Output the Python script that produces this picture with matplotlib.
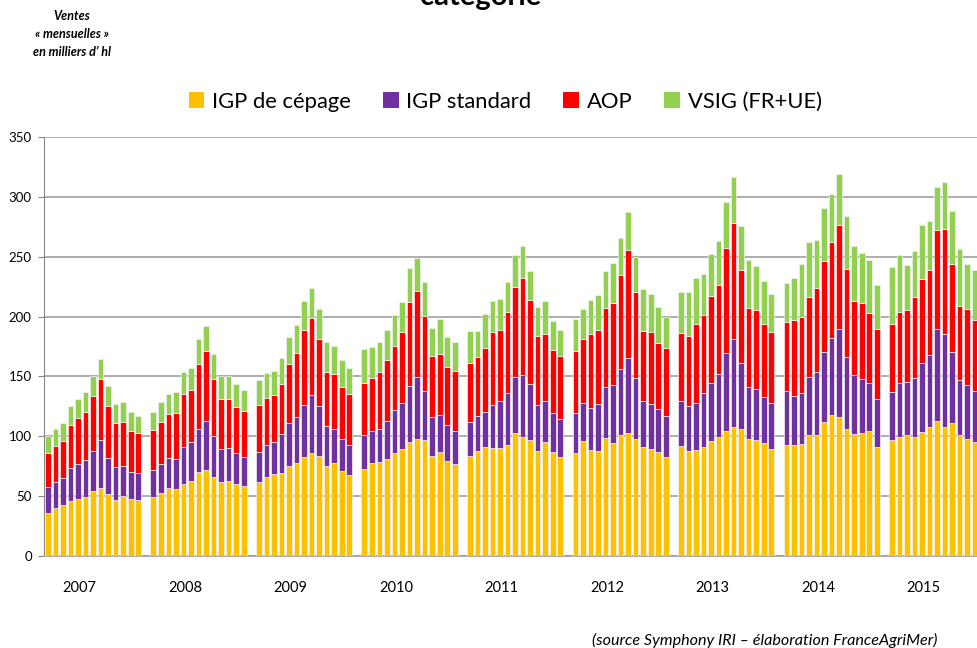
import numpy as np
import matplotlib
matplotlib.use("Agg")
import matplotlib.pyplot as plt
from matplotlib.patches import Patch
from matplotlib.transforms import blended_transform_factory

plt.rcParams['font.family'] = ['Lato', 'DejaVu Sans']

# 13 four-week periods per year (2015 shown up to period 12)
years = ['2007', '2008', '2009', '2010', '2011', '2012', '2013', '2014', '2015']

igp_cepage = [
    [35.4, 40.2, 42.1, 45.5, 47.7, 49.4, 53.8, 56.6, 51.3, 46.8, 49.6, 47.4, 46.3],
    [49.1, 52.4, 56.9, 56.1, 60.2, 62.5, 70.3, 71.7, 65.8, 61.3, 62.7, 60.2, 58.3],
    [61.9, 66.1, 68.6, 69.2, 75.0, 77.2, 82.5, 85.9, 83.7, 75.3, 77.8, 70.6, 67.2],
    [72.8, 77.8, 78.6, 81.1, 86.2, 89.5, 95.1, 97.6, 97.0, 83.4, 86.7, 79.2, 76.7],
    [83.1, 87.6, 91.2, 89.8, 90.4, 92.9, 102.6, 99.0, 96.8, 87.8, 95.1, 86.7, 82.8],
    [85.9, 95.9, 88.4, 87.3, 98.4, 94.5, 101.2, 102.6, 97.6, 90.9, 89.2, 87.0, 82.5],
    [91.7, 87.6, 88.4, 90.9, 95.9, 99.3, 104.3, 107.9, 105.7, 97.3, 96.8, 94.0, 89.2],
    [92.9, 92.9, 93.1, 100.9, 100.9, 111.5, 117.4, 116.3, 105.7, 102.1, 102.9, 104.3, 91.2],
    [97.0, 99.6, 100.9, 99.6, 103.7, 107.9, 112.4, 107.4, 110.7, 100.9, 97.3, 95.4],
]
igp_standard = [
    [22.3, 21.7, 22.6, 28.1, 28.7, 30.9, 33.8, 39.9, 30.7, 27.1, 25.7, 22.9, 22.9],
    [22.3, 24.0, 25.1, 24.8, 30.4, 32.3, 35.9, 41.0, 34.0, 27.7, 27.1, 25.4, 24.0],
    [25.1, 26.2, 26.8, 32.3, 35.7, 38.8, 43.3, 48.2, 41.2, 32.9, 28.4, 27.0, 25.1],
    [27.9, 26.8, 27.6, 31.3, 35.4, 37.9, 46.6, 51.6, 40.5, 32.9, 30.7, 29.8, 27.9],
    [28.4, 29.5, 29.3, 36.0, 39.0, 42.9, 46.6, 52.4, 47.1, 38.0, 34.6, 32.7, 31.3],
    [33.2, 32.1, 35.4, 39.3, 42.4, 48.0, 55.0, 63.0, 50.8, 38.8, 38.0, 35.7, 34.6],
    [37.7, 37.3, 39.0, 45.2, 48.5, 53.0, 65.0, 73.1, 55.2, 44.1, 42.6, 38.5, 38.2],
    [44.6, 40.7, 43.0, 48.3, 53.0, 58.6, 64.4, 73.3, 60.5, 48.8, 44.9, 40.1, 39.6],
    [39.6, 44.8, 44.4, 48.8, 57.8, 60.0, 76.9, 78.3, 59.4, 46.1, 45.2, 42.6],
]
aop = [
    [28.5, 30.1, 31.2, 36.0, 38.8, 39.9, 46.0, 51.3, 43.5, 37.1, 36.5, 34.0, 33.4],
    [33.5, 35.4, 36.5, 38.7, 44.9, 43.5, 54.1, 58.8, 48.3, 41.8, 41.0, 39.1, 38.7],
    [38.8, 39.9, 39.0, 42.4, 49.6, 53.5, 62.7, 64.7, 56.4, 45.5, 46.1, 43.5, 43.2],
    [43.7, 43.8, 47.5, 51.0, 53.8, 59.7, 70.8, 72.2, 63.0, 50.5, 51.3, 48.8, 49.6],
    [49.4, 49.4, 53.0, 61.3, 59.1, 68.0, 75.8, 81.2, 70.3, 57.7, 55.7, 52.9, 53.2],
    [52.4, 53.5, 61.9, 62.2, 66.7, 69.2, 78.9, 90.1, 72.2, 58.5, 59.9, 55.5, 56.6],
    [57.2, 59.1, 66.7, 65.2, 72.8, 73.9, 88.4, 97.0, 78.4, 66.1, 66.4, 61.0, 60.0],
    [58.0, 63.6, 63.8, 66.9, 69.7, 76.7, 80.3, 87.0, 73.3, 62.1, 63.3, 58.9, 58.8],
    [57.5, 59.7, 60.2, 67.7, 70.0, 71.1, 83.4, 87.6, 74.2, 62.1, 63.9, 59.4],
]
vsig = [
    [14.2, 14.0, 15.1, 15.3, 15.6, 16.7, 16.4, 17.0, 16.7, 15.9, 16.5, 15.9, 14.5],
    [15.6, 16.5, 16.5, 17.0, 18.2, 18.4, 20.7, 20.6, 20.6, 19.8, 19.8, 19.2, 17.3],
    [21.4, 20.3, 20.4, 21.2, 22.6, 23.5, 24.5, 24.8, 24.8, 24.8, 22.8, 22.3, 21.2],
    [28.2, 26.2, 25.0, 25.4, 25.9, 24.8, 28.2, 27.9, 28.2, 23.9, 29.0, 25.1, 24.3],
    [27.1, 21.5, 28.4, 25.9, 26.5, 25.4, 26.3, 26.2, 24.2, 24.5, 27.6, 24.0, 21.5],
    [26.5, 24.9, 28.2, 29.6, 30.6, 33.1, 30.7, 31.5, 29.0, 35.2, 31.8, 29.8, 25.7],
    [34.0, 36.6, 38.2, 34.3, 35.2, 37.0, 38.5, 38.8, 36.8, 39.6, 36.5, 36.3, 31.7],
    [32.9, 35.1, 44.1, 46.6, 40.5, 44.0, 40.5, 43.0, 44.4, 46.3, 41.8, 44.0, 36.8],
    [47.4, 47.4, 37.4, 38.5, 45.1, 41.0, 35.7, 39.6, 44.3, 47.2, 37.6, 41.3],
]

series = [
    ('IGP de cépage', igp_cepage, '#FFC000'),
    ('IGP standard', igp_standard, '#7030A0'),
    ('AOP', aop, '#FF0000'),
    ('VSIG (FR+UE)', vsig, '#92D050'),
]

slots_per_year = 14  # 13 periods + one empty slot between years

# x positions of every bar
x = np.concatenate([i * slots_per_year + np.arange(len(v)) for i, v in enumerate(igp_cepage)])

fig = plt.figure(figsize=(9.77, 6.48), dpi=100)
ax = fig.add_axes([0.0453, 0.1424, 0.9547, 0.6457])

bottom = np.zeros(len(x))
for name, values, color in series:
    vals = np.concatenate(values)
    ax.bar(x, vals, width=0.75, bottom=bottom, color=color,
           edgecolor='#f2f2f2', linewidth=0.5, zorder=3)
    bottom += vals

ax.set_xlim(-0.47, 123.3)
ax.set_ylim(0, 350)
ax.set_yticks(np.arange(0, 351, 50))
ax.set_xticks([])
ax.yaxis.grid(True, color='#a0a0a0', linewidth=1.2, zorder=0)
ax.set_axisbelow(True)
for side in ['top', 'right']:
    ax.spines[side].set_visible(False)
ax.spines['left'].set_color('#868686')
ax.spines['bottom'].set_color('#a0a0a0')
ax.spines['bottom'].set_linewidth(1.2)
ax.tick_params(axis='y', direction='out', length=4, color='#868686',
               labelsize=9.5, pad=5)

# year labels under each group
trans = blended_transform_factory(ax.transData, fig.transFigure)
for i, yr in enumerate(years):
    ax.text(i * slots_per_year + 4.2, 0.0926, yr, transform=trans,
            ha='center', va='center', fontsize=10.5)

# legend
handles = [Patch(facecolor=c, edgecolor='none', label=n) for n, _, c in series]
fig.legend(handles=handles, loc='center', bbox_to_anchor=(0.517, 0.843), ncol=4,
           frameon=False, fontsize=15.8, handlelength=0.72, handleheight=0.72,
           handletextpad=0.35, columnspacing=1.45)

# title (cut off at the top in the original)
fig.text(0.492, 0.993, 'catégorie', ha='center', va='baseline',
         fontsize=21, fontweight='bold')

fig.text(0.074, 0.947, 'Ventes\n« mensuelles »\nen milliers d\u2019 hl', ha='center',
         va='center', fontsize=9, fontweight='bold', fontstyle='italic', linespacing=1.6)

fig.text(0.959, 0.011, '(source Symphony IRI \u2013 élaboration FranceAgriMer)',
         ha='right', va='center', fontsize=11.6, fontstyle='italic')

fig.savefig('out.png', dpi=100)
